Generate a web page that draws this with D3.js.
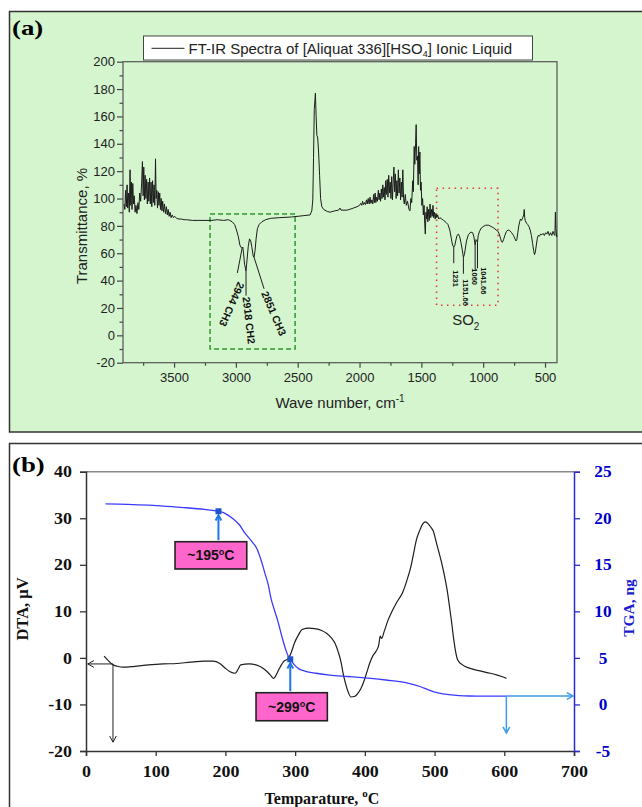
<!DOCTYPE html>
<html><head><meta charset="utf-8">
<script src="https://cdn.jsdelivr.net/npm/d3@7"></script>
<style>html,body{margin:0;padding:0;background:#fff;} svg{display:block;}</style>
</head><body>
<svg id="c" width="642" height="807"></svg>
<script>
// ================= DATA =================
// Panel (a): FT-IR spectrum, [wavenumber (cm-1), transmittance (%)]
const irSpectrum = [
[3905,96],[3898,92],[3892,106],[3886,94],[3880,110],[3875,93],[3868,104],[3862,90],[3856,121],[3850,95],
[3845,112],[3840,92],[3834,111],[3828,96],[3822,102],[3815,90],[3808,95],[3800,89],[3792,97],[3785,92],
[3778,104],[3770,98],[3762,112],[3756,127],[3750,102],[3745,123],[3740,99],[3734,117],[3728,100],[3722,114],
[3716,96],[3710,112],[3704,98],[3698,115],[3692,96],[3686,112],[3680,94],[3674,113],[3668,97],[3662,110],
[3656,95],[3650,129],[3645,100],[3640,106],[3634,93],[3628,105],[3622,95],[3616,104],[3610,92],[3604,100],
[3598,91],[3592,98],[3585,90],[3578,96],[3570,89],[3562,94],[3555,88],[3548,92],[3540,87],[3532,90],
[3524,86],[3515,88],[3505,86],[3495,87],[3480,85.5],[3460,85],[3440,85],[3420,84.5],[3400,84.5],[3350,84],
[3300,84],[3250,84],[3200,84],[3150,84.5],[3100,84],[3060,84.5],[3030,83],[3010,81],[2995,77],[2980,72],
[2968,66],[2956,64],[2950,63.5],[2944,64.5],[2938,60],[2930,52],[2918,47],[2910,55],[2900,65],[2890,70.5],
[2880,69],[2870,64],[2860,58],[2853,57],[2845,62],[2836,71],[2826,78],[2812,81],[2790,83],[2760,84.5],
[2720,85.5],[2650,86],[2550,86.5],[2450,87.5],[2400,88],[2386,91],[2378,99],[2372,130],[2366,165],[2357,177],
[2351,160],[2345,146],[2339,145],[2331,134],[2323,117],[2315,100],[2305,94],[2290,92],[2260,90.5],[2238,90],
[2200,91],[2170,91.5],[2158,93],[2150,91.5],[2100,91.5],[2050,93],[2020,94],[2000,95],
[1990,96.5],[1982,95],[1975,98],[1968,95.5],[1960,97],[1952,95.5],[1944,99],[1938,96],[1930,100],[1922,96],
[1915,101],[1908,96.5],[1900,99],[1893,96],[1886,103],[1880,97],[1874,104],[1868,97],[1862,101],[1855,98],
[1848,106],[1842,99],[1836,104],[1830,98],[1824,107],[1818,100],[1812,110],[1806,101],[1800,108],[1794,99],
[1788,113],[1782,103],[1776,114],[1770,101],[1764,117],[1758,104],[1752,112],[1746,100],[1740,116],[1734,99],
[1728,112],[1722,123],[1716,105],[1710,118],[1704,100],[1698,113],[1692,102],[1686,121],[1680,104],[1674,115],
[1668,99],[1662,112],[1656,101],[1650,121],[1644,100],[1638,96],[1630,103],[1622,95],[1612,98],[1600,92],
[1592,91],[1585,100],[1578,97],[1570,113],[1565,105],[1558,138],[1553,125],[1547,140],[1542,154],[1537,128],
[1531,131],[1526,110],[1522,138],[1517,118],[1512,134],[1507,106],[1502,112],[1496,95],[1490,100],[1484,88],
[1478,95],[1472,80],[1468,74],[1463,90],[1458,85],[1453,94],[1448,83],[1442,92],[1436,84],[1430,96],
[1424,86],[1418,92],[1412,87],[1406,95],[1400,86],[1394,90],[1388,85],[1382,89],[1375,86],[1368,88],
[1360,85],[1350,86],[1335,85],[1320,84],[1300,82.5],[1285,81],[1270,77],[1258,71],[1248,66],[1238,64.5],
[1230,65.5],[1222,69],[1212,73],[1200,74],[1190,72],[1180,68],[1170,63],[1160,57],[1152,59],[1145,63],
[1135,69],[1120,73.5],[1100,75.5],[1085,75],[1075,72],[1069,68],[1065,66],[1058,70],[1050,69],[1046,68],
[1040,73],[1030,76],[1015,78.5],[1000,79.5],[980,80.5],[955,80.5],[935,79.5],[915,78.5],[895,77],[880,76],
[870,74],[860,71],[852,68.5],[845,68],[835,70],[825,73],[812,76],[798,77],[785,76.5],[770,75],
[755,73],[745,71],[735,69],[728,70],[720,75],[712,80],[705,83],[698,85],[690,84],[680,86],
[672,88],[668,92],[664,86],[660,84],[650,82],[640,81],[630,79.5],[620,77],[610,73],[600,67],
[592,62],[585,59],[578,61],[570,66],[562,71],[555,73],[545,72.5],[535,74],[525,73.5],[515,74.5],
[505,73],[495,75],[485,74],[475,76],[465,73],[455,75],[445,73],[435,76],[428,74],[420,73],
[416,90],[412,78],[406,72],[404,73]
];
const irXTicks = [3500,3000,2500,2000,1500,1000,500];
const irXMinor = [3750,3250,2750,2250,1750,1250,750];
const irYTicks = [-20,0,20,40,60,80,100,120,140,160,180,200];
const irYMinor = [-10,10,30,50,70,90,110,130,150,170,190];
const irLegend = "FT-IR Spectra of [Aliquat 336][HSO";
// peak annotations [wavenumber, value]
const chLabels = [
  {text:"2944 CH3", w:2983, v:39.6, rot:114},
  {text:"2918 CH2", w:2946, v:27.8, rot:83.4},
  {text:"2851 CH3", w:2796, v:30.8, rot:66.8}];
const chLeaders = [[2950,63.5,2988,45.6],[2918,47,2918,29],[2853,57,2772,34]];
const so2Labels = [
  {text:"1231", w:1247, v:47.6},{text:"1151.66", w:1166, v:41},
  {text:"1060", w:1089, v:49},{text:"1041.66", w:1017, v:49.8}];
const so2Leaders = [[1238,64.5,1238,52.7],[1160,57,1160,45],[1065,66,1065,47.5],[1046,68,1046,49]];
const chBox = [3209,88.6,2521,-10];
const so2Box = [1377,107.5,880,22];
const so2Text = {w:1251, v:7.4};

// Panel (b): DTA [temperature °C, µV] and TGA [temperature °C, mg]
const dtaCurve = [
[26,0.4],[32,-0.6],[38,-1.4],[45,-1.8],[53,-2.0],[70,-1.8],[90,-1.5],[111,-1.3],[130,-1.2],[150,-0.9],
[170,-0.7],[182,-0.7],[192,-1.2],[199,-2.1],[206,-2.9],[214,-3.3],[218,-2.5],[222,-1.5],[234,-1.3],[249,-1.8],
[258,-2.7],[264,-3.6],[269,-4.4],[274,-3.3],[278,-2.1],[284,-0.7],[290,-0.2],[294,1.0],[299,3.2],[305,5.0],
[310,6.1],[320,6.4],[328,6.3],[338,5.9],[345,5.3],[352,4.3],[357,3.2],[362,1.2],[366,-1.0],[369,-3.5],
[372,-5.3],[376,-7.3],[380,-8.4],[385,-8.3],[389,-7.8],[394,-6.7],[398,-5.3],[403,-3.0],[407,-1.1],[412,0.6],
[416,1.4],[420,2.8],[422,4.7],[424,4.2],[428,5.8],[433,8.0],[439,10.0],[446,12.0],[454,14.0],[460,16.5],
[466,19.6],[470,22.5],[474,25.4],[479,27.5],[483,28.8],[487,29.2],[491,28.8],[495,28.0],[498,27.3],[503,24.5],
[509,21.1],[514,17.8],[518,14.6],[521,11.5],[524,8.2],[527,4.5],[530,1.5],[533,-0.4],[540,-1.5],[550,-2.2],
[565,-2.8],[580,-3.3],[590,-3.7],[600,-4.2],[603,-4.4]];
const tgaCurve = [
[28,21.55],[60,21.5],[90,21.4],[111,21.3],[140,21.15],[170,20.95],[190,20.75],[200,20.5],[210,20.0],[220,19.3],
[228,18.4],[238,17.5],[246,16.6],[252,15.3],[257,14.0],[261,13.0],[266,11.2],[270,10.2],[275,9.0],[281,7.3],
[286,6.0],[290,5.2],[293,4.85],[299,4.25],[305,3.85],[315,3.55],[330,3.35],[350,3.15],[375,3.0],[400,2.85],
[433,2.6],[450,2.45],[463,2.27],[480,1.9],[492,1.55],[505,1.25],[521,1.05],[535,0.95],[550,0.91],[575,0.9],[603,0.9]];
const tXTicks = [0,100,200,300,400,500,600,700];
const dtaTicks = [-20,-10,0,10,20,30,40];
const tgaTicks = [-5,0,5,10,15,20,25];
const events = [
  {label:"~195", t:190, tga:20.75, box:[127.7,24.96,230.6,19.1]},
  {label:"~299", t:293, tga:4.85, box:[243.9,-7.48,346.2,-13.5]}];
const dtaArrow = {t:38.7, v:-1.3, tEnd:2.5, vEnd:-18.1};
const tgaArrow = {t:603, v:0.9, tEnd:700, vEnd:-3.07};

// ================= DRAW =================
const svg = d3.select("#c");
const SANS = "'Liberation Sans', Arial, sans-serif";
const SERIF = "'Liberation Serif', 'Times New Roman', serif";
const fmt = d => String(d);   // plain hyphen-minus like the original

function stretch(sel, f){
  sel.each(function(){
    const l = this.getComputedTextLength();
    d3.select(this).attr("textLength", l*f).attr("lengthAdjust","spacingAndGlyphs");
  });
}
function arrow(g, x1,y1,x2,y2,color,w,head){
  g.append("line").attr("x1",x1).attr("y1",y1).attr("x2",x2).attr("y2",y2)
    .attr("stroke",color).attr("stroke-width",w);
  const a = Math.atan2(y2-y1,x2-x1), s = 0.5;
  const p = [[x2-head*Math.cos(a-s), y2-head*Math.sin(a-s)],[x2,y2],[x2-head*Math.cos(a+s), y2-head*Math.sin(a+s)]];
  g.append("path").attr("d", d3.line()(p)).attr("fill","none").attr("stroke",color).attr("stroke-width",w);
}

// ---------- Panel (a) ----------
const gA = svg.append("g");
gA.append("rect").attr("x",9.5).attr("y",11.5).attr("width",640).attr("height",420.5)
  .attr("fill","#d5f5cf").attr("stroke","#333").attr("stroke-width",1.5);
gA.append("text").attr("x",12).attr("y",35).text("(a)")
  .attr("font-family",SERIF).attr("font-weight","bold").attr("font-size",22).call(stretch,1.22);

const xA = d3.scaleLinear().domain([3913,403]).range([123,557]);
const yA = d3.scaleLinear().domain([-20,200]).range([362.7,61.7]);

const axA = gA.append("g").attr("transform","translate(0,362.7)")
  .call(d3.axisBottom(xA).tickValues(irXTicks).tickSize(5).tickPadding(5).tickFormat(fmt));
const axAm = gA.append("g").attr("transform","translate(0,362.7)")
  .call(d3.axisBottom(xA).tickValues(irXMinor).tickSize(3).tickFormat(""));
const ayA = gA.append("g").attr("transform","translate(123,0)")
  .call(d3.axisLeft(yA).tickValues(irYTicks).tickSize(6).tickPadding(2).tickFormat(fmt));
const ayAm = gA.append("g").attr("transform","translate(123,0)")
  .call(d3.axisLeft(yA).tickValues(irYMinor).tickSize(3.5).tickFormat(""));
[axA,axAm,ayA,ayAm].forEach(a=>{
  a.select(".domain").remove();
  a.selectAll("line").attr("stroke","#444").attr("stroke-width",1.2);
  a.selectAll("text").attr("font-family",SANS).attr("font-size",13).attr("fill","#222");
});
gA.append("rect").attr("x",123).attr("y",61.7).attr("width",434).attr("height",301)
  .attr("fill","none").attr("stroke","#555").attr("stroke-width",1.2);

// boxes
gA.append("rect").attr("x",xA(chBox[0])).attr("y",yA(chBox[1]))
  .attr("width",xA(chBox[2])-xA(chBox[0])).attr("height",yA(chBox[3])-yA(chBox[1]))
  .attr("fill","none").attr("stroke","#2e9a2e").attr("stroke-width",1.5).attr("stroke-dasharray","5,3");
gA.append("rect").attr("x",xA(so2Box[0])).attr("y",yA(so2Box[1]))
  .attr("width",xA(so2Box[2])-xA(so2Box[0])).attr("height",yA(so2Box[3])-yA(so2Box[1]))
  .attr("fill","none").attr("stroke","#e23a3a").attr("stroke-width",1.6).attr("stroke-dasharray","1.5,4.5");

// spectrum
gA.append("path").datum(irSpectrum)
  .attr("d", d3.line().x(d=>xA(d[0])).y(d=>yA(d[1])))
  .attr("fill","none").attr("stroke","#1c1c1c").attr("stroke-width",1);

// leaders
chLeaders.concat(so2Leaders).forEach(l=>{
  gA.append("line").attr("x1",xA(l[0])).attr("y1",yA(l[1])).attr("x2",xA(l[2])).attr("y2",yA(l[3]))
    .attr("stroke","#1c1c1c").attr("stroke-width",1);
});
chLabels.forEach(l=>{
  gA.append("text").attr("transform",`translate(${xA(l.w)},${yA(l.v)}) rotate(${l.rot})`)
    .attr("font-family",SANS).attr("font-weight","bold").attr("font-size",10.5).attr("fill","#111").text(l.text);
});
so2Labels.forEach(l=>{
  gA.append("text").attr("transform",`translate(${xA(l.w)},${yA(l.v)}) rotate(90)`)
    .attr("font-family",SANS).attr("font-weight","bold").attr("font-size",7.5).attr("fill","#111").text(l.text);
});
const so2t = gA.append("text").attr("x",xA(so2Text.w)).attr("y",yA(so2Text.v))
  .attr("font-family",SANS).attr("font-size",15).attr("fill","#222");
so2t.append("tspan").text("SO");
so2t.append("tspan").attr("font-size",10).attr("dy",5).text("2");

// legend
gA.append("rect").attr("x",143.5).attr("y",36).attr("width",389).attr("height",24)
  .attr("fill","#fff").attr("stroke","#444").attr("stroke-width",1);
gA.append("line").attr("x1",151.5).attr("x2",184.5).attr("y1",48.3).attr("y2",48.3).attr("stroke","#222").attr("stroke-width",1);
const lg = gA.append("text").attr("x",188.5).attr("y",54)
  .attr("font-family",SANS).attr("font-size",15).attr("fill","#222");
lg.append("tspan").text(irLegend);
lg.append("tspan").attr("font-size",9).attr("dy",3).text("4");
lg.append("tspan").attr("dy",-3).text("] Ionic Liquid");

// axis titles
const xt = gA.append("text").attr("x",340).attr("y",408).attr("text-anchor","middle")
  .attr("font-family",SANS).attr("font-size",15).attr("fill","#222");
xt.append("tspan").text("Wave number, cm");
xt.append("tspan").attr("font-size",10).attr("dy",-6).text("-1");
gA.append("text").attr("transform","translate(87,226) rotate(-90)").attr("text-anchor","middle")
  .attr("font-family",SANS).attr("font-size",15).attr("fill","#222").text("Transmittance, %");

// ---------- Panel (b) ----------
const gB = svg.append("g");
gB.append("rect").attr("x",9.5).attr("y",443.5).attr("width",640).attr("height",380)
  .attr("fill","#fff").attr("stroke","#333").attr("stroke-width",1.5);
gB.append("text").attr("x",12).attr("y",472).text("(b)")
  .attr("font-family",SERIF).attr("font-weight","bold").attr("font-size",22).call(stretch,1.22);

const xB = d3.scaleLinear().domain([0,700]).range([86,574]);
const yL = d3.scaleLinear().domain([-20,40]).range([751,471.7]);
const yR = d3.scaleLinear().domain([-5,25]).range([751,471.7]);

// top frame
gB.append("line").attr("x1",86).attr("x2",574).attr("y1",471.7).attr("y2",471.7).attr("stroke","#8a8a8a").attr("stroke-width",1.5);

const axB = gB.append("g").attr("transform","translate(0,751)")
  .call(d3.axisBottom(xB).tickValues(tXTicks).tickSize(5).tickPadding(10).tickFormat(fmt));
const ayL = gB.append("g").attr("transform","translate(86,0)")
  .call(d3.axisLeft(yL).tickValues(dtaTicks).tickSize(6).tickPadding(8).tickFormat(fmt));
const ayR = gB.append("g").attr("transform","translate(574,0)")
  .call(d3.axisRight(yR).tickValues(tgaTicks).tickSize(6).tickPadding(6).tickFormat(fmt));
[axB,ayL].forEach(a=>{
  a.select(".domain").attr("stroke","#333").attr("stroke-width",1.5);
  a.selectAll("line").attr("stroke","#333").attr("stroke-width",1.3);
  a.selectAll("text").attr("font-family",SERIF).attr("font-weight","bold").attr("font-size",16).attr("fill","#111");
});
ayR.select(".domain").attr("stroke","#2b2bc8").attr("stroke-width",1.5);
ayR.selectAll("line").attr("stroke","#2b2bc8").attr("stroke-width",1.3);
ayR.selectAll("text").attr("font-family",SERIF).attr("font-weight","bold").attr("font-size",16)
  .attr("fill","#0000cc").attr("text-anchor","middle").attr("x",29);
axB.selectAll("text").call(stretch,1.12);
ayL.selectAll("text").call(stretch,1.12);
ayR.selectAll("text").call(stretch,1.08);

// curves
gB.append("path").datum(dtaCurve)
  .attr("d", d3.line().curve(d3.curveMonotoneX).x(d=>xB(d[0])).y(d=>yL(d[1])))
  .attr("fill","none").attr("stroke","#1e1e1e").attr("stroke-width",1.2);
gB.append("path").datum(tgaCurve)
  .attr("d", d3.line().curve(d3.curveMonotoneX).x(d=>xB(d[0])).y(d=>yR(d[1])))
  .attr("fill","none").attr("stroke","#3b3bff").attr("stroke-width",1.3);

// black arrows at DTA start
arrow(gB, xB(dtaArrow.t), yL(dtaArrow.v), xB(dtaArrow.tEnd), yL(dtaArrow.v), "#222", 1, 7);
arrow(gB, xB(dtaArrow.t), yL(dtaArrow.v), xB(dtaArrow.t), yL(dtaArrow.vEnd), "#222", 1, 7);
// blue arrows at TGA end
arrow(gB, xB(tgaArrow.t), yR(tgaArrow.v), xB(tgaArrow.tEnd)-1, yR(tgaArrow.v), "#3d9be9", 1.5, 7);
arrow(gB, xB(tgaArrow.t), yR(tgaArrow.v), xB(tgaArrow.t), yR(tgaArrow.vEnd), "#3d9be9", 1.5, 7);

// event markers, labels
events.forEach(e=>{
  const mx = xB(e.t), my = yR(e.tga);
  const bx0 = xB(e.box[0]), by0 = yL(e.box[1]), bx1 = xB(e.box[2]), by1 = yL(e.box[3]);
  arrow(gB, mx, by0-1.5, mx, my+4, "#1f78e0", 2, 6);
  gB.append("path").attr("transform",`translate(${mx},${my})`)
    .attr("d", d3.symbol().type(d3.symbolSquare).size(36)()).attr("fill","#1f55c8");
  gB.append("rect").attr("x",bx0).attr("y",by0).attr("width",bx1-bx0).attr("height",by1-by0)
    .attr("fill","#ff66cc").attr("stroke","#222").attr("stroke-width",1.6);
  const t = gB.append("text").attr("x",(bx0+bx1)/2).attr("y",(by0+by1)/2+5).attr("text-anchor","middle")
    .attr("font-family",SANS).attr("font-weight","bold").attr("font-size",14).attr("fill","#111");
  t.append("tspan").text(e.label);
  t.append("tspan").attr("font-size",9).attr("dy",-5).text("o");
  t.append("tspan").attr("dy",5).text("C");
});

// axis titles
const tb = gB.append("text").attr("x",322).attr("y",804).attr("text-anchor","middle")
  .attr("font-family",SERIF).attr("font-weight","bold").attr("font-size",16).attr("fill","#111");
tb.append("tspan").text("Temparature, ");
tb.append("tspan").attr("font-size",11).attr("dy",-7).text("o");
tb.append("tspan").attr("dy",7).text("C");
gB.append("text").attr("transform","translate(28,609) rotate(-90)").attr("text-anchor","middle")
  .attr("font-family",SERIF).attr("font-weight","bold").attr("font-size",16.5).attr("fill","#111").text("DTA, \u03BCV");
gB.append("text").attr("transform","translate(634,608) rotate(-90)").attr("text-anchor","middle")
  .attr("font-family",SERIF).attr("font-weight","bold").attr("font-size",15.5).attr("fill","#1a1acc").text("TGA, ng");
</script>
</body></html>
